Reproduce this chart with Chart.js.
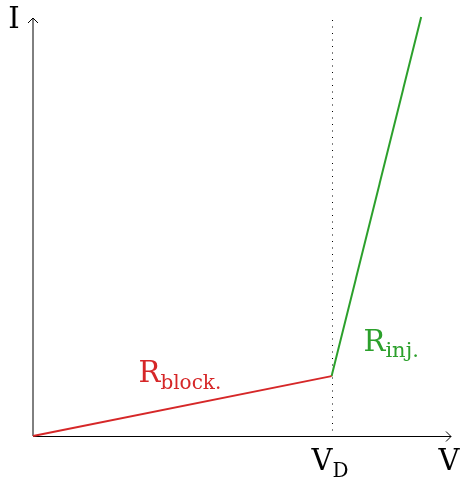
<!DOCTYPE html>
<html lang="en">
<head>
<meta charset="UTF-8">
<title>Diode I-V characteristic</title>
<script src="https://cdn.jsdelivr.net/npm/chart.js"></script>
<style>
    html, body { margin: 0; padding: 0; background: #ffffff; }
    canvas { display: block; }
</style>
</head>
<body>
<canvas id="iv" width="462" height="481"></canvas>
<script>
// piecewise-linear I-V curve: blocking branch then injection branch
const voltage = [0, 1.0, 1.3];
const current = [0, 0.2, 1.4];
const vKnee = 1.0;           // V_D
const axisMax = 1.4;

const RED = '#d62728';
const GREEN = '#2ca02c';
const SERIF = '"DejaVu Serif", "Liberation Serif", serif';

const blockPts = [0, 1].map(i => ({ x: voltage[i], y: current[i] }));
const injPts = [1, 2].map(i => ({ x: voltage[i], y: current[i] }));

// text with a lowered subscript after it
function subText(ctx, x, y, main, sub, color, big, small, drop) {
    ctx.fillStyle = color;
    ctx.font = big + 'px ' + SERIF;
    ctx.fillText(main, x, y);
    const w = ctx.measureText(main).width;
    ctx.font = small + 'px ' + SERIF;
    ctx.fillText(sub, x + w, y + drop);
}

const axesPlugin = {
    id: 'axesPlugin',
    beforeDatasetsDraw(chart) {
        const ctx = chart.ctx;
        const xs = chart.scales.x, ys = chart.scales.y;
        const x0 = xs.getPixelForValue(0), y0 = ys.getPixelForValue(0);
        const xEnd = xs.getPixelForValue(axisMax), yEnd = ys.getPixelForValue(axisMax);
        const xd = Math.round(xs.getPixelForValue(vKnee)) + 0.5;
        ctx.save();
        // dotted guide at V_D
        ctx.strokeStyle = '#000';
        ctx.lineWidth = 1;
        ctx.setLineDash([1, 5.5]);
        ctx.beginPath();
        ctx.moveTo(xd, yEnd + 3);
        ctx.lineTo(xd, y0);
        ctx.stroke();
        ctx.setLineDash([]);
        // axes with open arrow heads
        ctx.beginPath();
        ctx.moveTo(x0, y0);
        ctx.lineTo(x0, yEnd + 1);
        ctx.moveTo(x0 - 5, yEnd + 6);
        ctx.lineTo(x0, yEnd + 1);
        ctx.lineTo(x0 + 5, yEnd + 6);
        ctx.moveTo(x0, y0 + 0.5);
        ctx.lineTo(xEnd, y0 + 0.5);
        ctx.moveTo(xEnd - 5, y0 - 4.5);
        ctx.lineTo(xEnd, y0 + 0.5);
        ctx.lineTo(xEnd - 5, y0 + 5.5);
        ctx.stroke();
        ctx.restore();
    },
    afterDatasetsDraw(chart) {
        const ctx = chart.ctx;
        const xs = chart.scales.x, ys = chart.scales.y;
        const x0 = xs.getPixelForValue(0), y0 = ys.getPixelForValue(0);
        const xEnd = xs.getPixelForValue(axisMax);
        const xk = xs.getPixelForValue(vKnee), yk = ys.getPixelForValue(current[1]);
        ctx.save();
        ctx.textBaseline = 'alphabetic';
        ctx.fillStyle = '#000';
        ctx.font = '29px ' + SERIF;
        ctx.textAlign = 'center';
        ctx.fillText('I', x0 - 19, 28);
        ctx.fillText('V', xEnd - 2, y0 + 34);
        ctx.textAlign = 'left';
        subText(ctx, xk - 20, y0 + 34, 'V', 'D', '#000', 29, 20, 7);
        subText(ctx, xk - 193, yk + 6, 'R', 'block.', RED, 29, 20, 7);
        subText(ctx, xk + 32, yk - 25, 'R', 'inj.', GREEN, 29, 21, 6);
        ctx.restore();
    }
};

new Chart(document.getElementById('iv').getContext('2d'), {
    type: 'scatter',
    data: {
        datasets: [
            { label: 'R block', data: blockPts, showLine: true, borderColor: RED, borderWidth: 2, pointRadius: 0, clip: false },
            { label: 'R inj', data: injPts, showLine: true, borderColor: GREEN, borderWidth: 2, pointRadius: 0, clip: false }
        ]
    },
    options: {
        responsive: false,
        animation: false,
        layout: { padding: { left: 33, right: 11, top: 17, bottom: 45 } },
        plugins: { legend: { display: false }, tooltip: { enabled: false } },
        scales: {
            x: { type: 'linear', min: 0, max: axisMax, display: false },
            y: { type: 'linear', min: 0, max: axisMax, display: false }
        }
    },
    plugins: [axesPlugin]
});
</script>
</body>
</html>
